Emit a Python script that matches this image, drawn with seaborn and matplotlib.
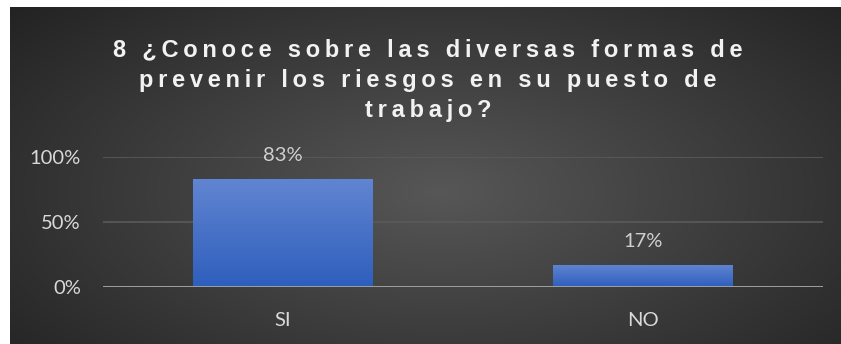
import numpy as np
import pandas as pd
import matplotlib
matplotlib.use("Agg")
import matplotlib.pyplot as plt
import seaborn as sns

# datos
categorias = ["SI", "NO"]
porcentajes = [0.83, 0.17]
y_ticks = [0, 0.5, 1.0]
y_labels = ["0%", "50%", "100%"]
titulo = ["8 ¿Conoce sobre las diversas formas de",
          "prevenir los riesgos en su puesto de",
          "trabajo?"]

sns.set_style("dark")
plt.rcParams['font.family'] = ['Lato', 'DejaVu Sans']

W, H = 841, 344
fig = plt.figure(figsize=(W / 100, H / 100), dpi=100)
fig.patch.set_facecolor("white")

# fondo con degradado radial
bg = fig.add_axes([10 / W, 0, (W - 10) / W, (H - 7) / H])
yy, xx = np.mgrid[0:1:200j, 0:1:400j]
r = np.sqrt(((xx - 0.52) / 0.75) ** 2 + ((yy - 0.45) / 0.9) ** 2)
g = np.clip(0.34 - 0.22 * r, 0.14, 0.36)
bg.imshow(np.dstack([g, g, g]), aspect="auto", extent=[0, 1, 0, 1], origin="lower")
bg.set_axis_off()

ax = fig.add_axes([103 / W, (H - 287) / H, (823 - 103) / W, (287 - 157) / H])
ax.patch.set_alpha(0)

df = pd.DataFrame({"cat": categorias, "val": porcentajes})
sns.barplot(data=df, x="cat", y="val", color="#4472c4", width=0.5, ax=ax,
            saturation=1, linewidth=0, zorder=3)

# degradado en las barras
grad = np.linspace(0, 1, 100).reshape(-1, 1)
top_c = np.array([0.38, 0.52, 0.82])
bot_c = np.array([0.18, 0.37, 0.74])
img = bot_c + (top_c - bot_c) * grad[..., None]
for p in ax.patches:
    x0, y0 = p.get_x(), p.get_y()
    w, h = p.get_width(), p.get_height()
    im = ax.imshow(img, extent=[x0, x0 + w, y0, y0 + h], origin="lower",
                   aspect="auto", zorder=3)
    im.set_clip_path(p)
    ax.annotate(f"{h:.0%}", (x0 + w / 2, h), xytext=(0, 17),
                textcoords="offset points", ha="center", va="center",
                fontsize=14.5, color="#d0d0d0", annotation_clip=False)

ax.set_xlim(-0.5, 1.5)
ax.set_ylim(0, 1)
ax.set_yticks(y_ticks)
ax.set_yticklabels(y_labels)
ax.set_xlabel("")
ax.set_ylabel("")
ax.grid(axis="y", color="#5a5a5a", linewidth=1.2, zorder=1)
ax.grid(axis="x", visible=False)
ax.axhline(0, color="#a6a6a6", linewidth=2, zorder=4)
for s in ax.spines.values():
    s.set_visible(False)
ax.tick_params(axis="both", length=0, colors="#d9d9d9", labelsize=14.5)
ax.tick_params(axis="y", pad=16)
ax.tick_params(axis="x", pad=18)

# titulo con espaciado entre letras
for i, linea in enumerate(titulo):
    txt = "\u2009".join(linea)
    fig.text(428 / W, 1 - (50 + i * 30.5) / H, txt, ha="center", va="center",
             fontsize=17, fontweight="bold", color="#f2f2f2",
             family=['Liberation Sans', 'DejaVu Sans'])

fig.savefig("out.png", dpi=100)
